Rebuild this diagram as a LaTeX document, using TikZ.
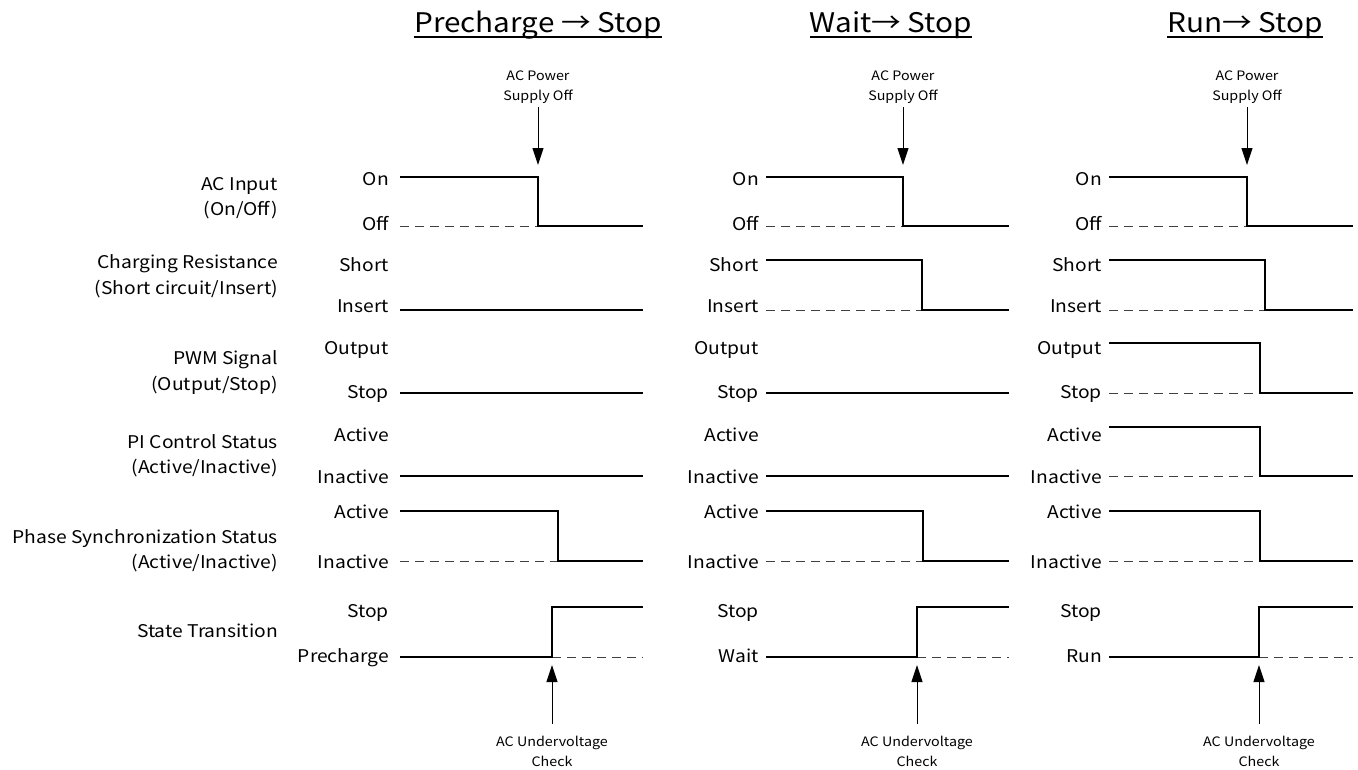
\documentclass[tikz,border=0pt]{standalone}
\usepackage{fontspec}
\setmainfont[FakeStretch=1.1]{Noto Sans CJK JP}
\usetikzlibrary{arrows.meta}

\tikzset{
  sig/.style={line width=2.4pt},
  idle/.style={line width=1pt, black!75, dash pattern=on 9pt off 6pt},
  lvl/.style={anchor=base east, inner sep=0pt, font=\fontsize{17.5}{21}\selectfont},
  cat/.style={anchor=east, align=right, inner sep=0pt, font=\fontsize{17.5}{25.5}\selectfont},
  title/.style={anchor=base, inner sep=0pt, font=\fontsize{27}{30}\selectfont},
  note/.style={align=center, inner sep=0pt, font=\fontsize{13}{20}\selectfont},
  evt/.style={line width=1pt, -{Triangle[length=17pt,width=11pt]}}
}

\begin{document}
\begin{tikzpicture}[x=1pt, y=-1pt]
    \useasboundingbox (0, 0) rectangle (1358, 769);

    % signal names
    \node[cat] (acin) at (278, 198) {AC Input\\(On/Off)};
    \node[cat] (chres) at (278, 276) {Charging Resistance\\(Short circuit/Insert)};
    \node[cat] (pwm) at (278, 372.5) {PWM Signal\\(Output/Stop)};
    \node[cat] (pictl) at (278, 455.5) {PI Control Status\\(Active/Inactive)};
    \node[cat] (phsync) at (278, 550.5) {Phase Synchronization Status\\(Active/Inactive)};
    \node[cat, anchor=base east] (state) at (278, 637) {State Transition};

    % Precharge -> Stop
    \node[title] (ttl1) at (538, 32) {Precharge → Stop};
    \draw[line width=2.4pt] ([yshift=-5pt]ttl1.base west) -- ([yshift=-5pt]ttl1.base east);
    \node[lvl] (on1) at (389, 185) {On};
    \node[lvl] (off1) at (389, 230) {Off};
    \node[lvl] (short1) at (389, 271) {Short};
    \node[lvl] (ins1) at (389, 312) {Insert};
    \node[lvl] (out1) at (389, 354) {Output};
    \node[lvl] (stp1) at (389, 398) {Stop};
    \node[lvl] (act1) at (389, 441) {Active};
    \node[lvl] (inact1) at (389, 483) {Inactive};
    \node[lvl] (pact1) at (389, 518) {Active};
    \node[lvl] (pinact1) at (389, 568) {Inactive};
    \node[lvl] (st1) at (389, 617) {Stop};
    \node[lvl] (pre1) at (389, 662) {Precharge};
    \draw[idle] (400, 226) -- (538, 226);
    \draw[sig] (400, 177) -- (538, 177) -- (538, 226) -- (643, 226);
    \draw[sig] (400, 310) -- (643, 310);
    \draw[sig] (400, 393) -- (643, 393);
    \draw[sig] (400, 476) -- (643, 476);
    \draw[idle] (400, 561) -- (558, 561);
    \draw[sig] (400, 511) -- (558, 511) -- (558, 561) -- (643, 561);
    \draw[idle] (552, 657) -- (643, 657);
    \draw[sig] (400, 657) -- (552, 657) -- (552, 607) -- (643, 607);
    \node[note] (pwr1) at (538, 87.5) {AC Power\\Supply Off};
    \coordinate (off1tip) at (538, 165);
    \draw[evt, shorten <=3pt] (pwr1.south) -- (off1tip);
    \node[note] (uv1) at (552, 751) {AC Undervoltage\\Check};
    \coordinate (uv1tip) at (552, 665);
    \draw[evt, shorten <=12pt] (uv1.north) -- (uv1tip);

    % Wait -> Stop
    \node[title] (ttl2) at (891, 32) {Wait→ Stop};
    \draw[line width=2.4pt] ([yshift=-5pt]ttl2.base west) -- ([yshift=-5pt]ttl2.base east);
    \node[lvl] (on2) at (759, 185) {On};
    \node[lvl] (off2) at (759, 230) {Off};
    \node[lvl] (short2) at (759, 271) {Short};
    \node[lvl] (ins2) at (759, 312) {Insert};
    \node[lvl] (out2) at (759, 354) {Output};
    \node[lvl] (stp2) at (759, 398) {Stop};
    \node[lvl] (act2) at (759, 441) {Active};
    \node[lvl] (inact2) at (759, 483) {Inactive};
    \node[lvl] (pact2) at (759, 518) {Active};
    \node[lvl] (pinact2) at (759, 568) {Inactive};
    \node[lvl] (st2) at (759, 617) {Stop};
    \node[lvl] (wait2) at (759, 662) {Wait};
    \draw[idle] (766, 226) -- (903, 226);
    \draw[sig] (766, 177) -- (903, 177) -- (903, 226) -- (1009, 226);
    \draw[idle] (766, 310) -- (922, 310);
    \draw[sig] (766, 260) -- (922, 260) -- (922, 310) -- (1009, 310);
    \draw[sig] (766, 393) -- (1009, 393);
    \draw[sig] (766, 476) -- (1009, 476);
    \draw[idle] (766, 561) -- (923, 561);
    \draw[sig] (766, 511) -- (923, 511) -- (923, 561) -- (1009, 561);
    \draw[idle] (917, 657) -- (1009, 657);
    \draw[sig] (766, 657) -- (917, 657) -- (917, 607) -- (1009, 607);
    \node[note] (pwr2) at (903, 87.5) {AC Power\\Supply Off};
    \coordinate (off2tip) at (903, 165);
    \draw[evt, shorten <=3pt] (pwr2.south) -- (off2tip);
    \node[note] (uv2) at (917, 751) {AC Undervoltage\\Check};
    \coordinate (uv2tip) at (917, 665);
    \draw[evt, shorten <=12pt] (uv2.north) -- (uv2tip);

    % Run -> Stop
    \node[title] (ttl3) at (1245, 32) {Run→ Stop};
    \draw[line width=2.4pt] ([yshift=-5pt]ttl3.base west) -- ([yshift=-5pt]ttl3.base east);
    \node[lvl] (on3) at (1102, 185) {On};
    \node[lvl] (off3) at (1102, 230) {Off};
    \node[lvl] (short3) at (1102, 271) {Short};
    \node[lvl] (ins3) at (1102, 312) {Insert};
    \node[lvl] (out3) at (1102, 354) {Output};
    \node[lvl] (stp3) at (1102, 398) {Stop};
    \node[lvl] (act3) at (1102, 441) {Active};
    \node[lvl] (inact3) at (1102, 483) {Inactive};
    \node[lvl] (pact3) at (1102, 518) {Active};
    \node[lvl] (pinact3) at (1102, 568) {Inactive};
    \node[lvl] (st3) at (1102, 617) {Stop};
    \node[lvl] (run3) at (1102, 662) {Run};
    \draw[idle] (1109, 226) -- (1247, 226);
    \draw[sig] (1109, 177) -- (1247, 177) -- (1247, 226) -- (1353, 226);
    \draw[idle] (1109, 310) -- (1265, 310);
    \draw[sig] (1109, 260) -- (1265, 260) -- (1265, 310) -- (1353, 310);
    \draw[idle] (1109, 393) -- (1260, 393);
    \draw[sig] (1109, 343) -- (1260, 343) -- (1260, 393) -- (1353, 393);
    \draw[idle] (1109, 476) -- (1260, 476);
    \draw[sig] (1109, 427) -- (1260, 427) -- (1260, 476) -- (1353, 476);
    \draw[idle] (1109, 561) -- (1260, 561);
    \draw[sig] (1109, 511) -- (1260, 511) -- (1260, 561) -- (1353, 561);
    \draw[idle] (1259, 657) -- (1353, 657);
    \draw[sig] (1109, 657) -- (1259, 657) -- (1259, 607) -- (1353, 607);
    \node[note] (pwr3) at (1247, 87.5) {AC Power\\Supply Off};
    \coordinate (off3tip) at (1247, 165);
    \draw[evt, shorten <=3pt] (pwr3.south) -- (off3tip);
    \node[note] (uv3) at (1259, 751) {AC Undervoltage\\Check};
    \coordinate (uv3tip) at (1259, 665);
    \draw[evt, shorten <=12pt] (uv3.north) -- (uv3tip);
\end{tikzpicture}
\end{document}
